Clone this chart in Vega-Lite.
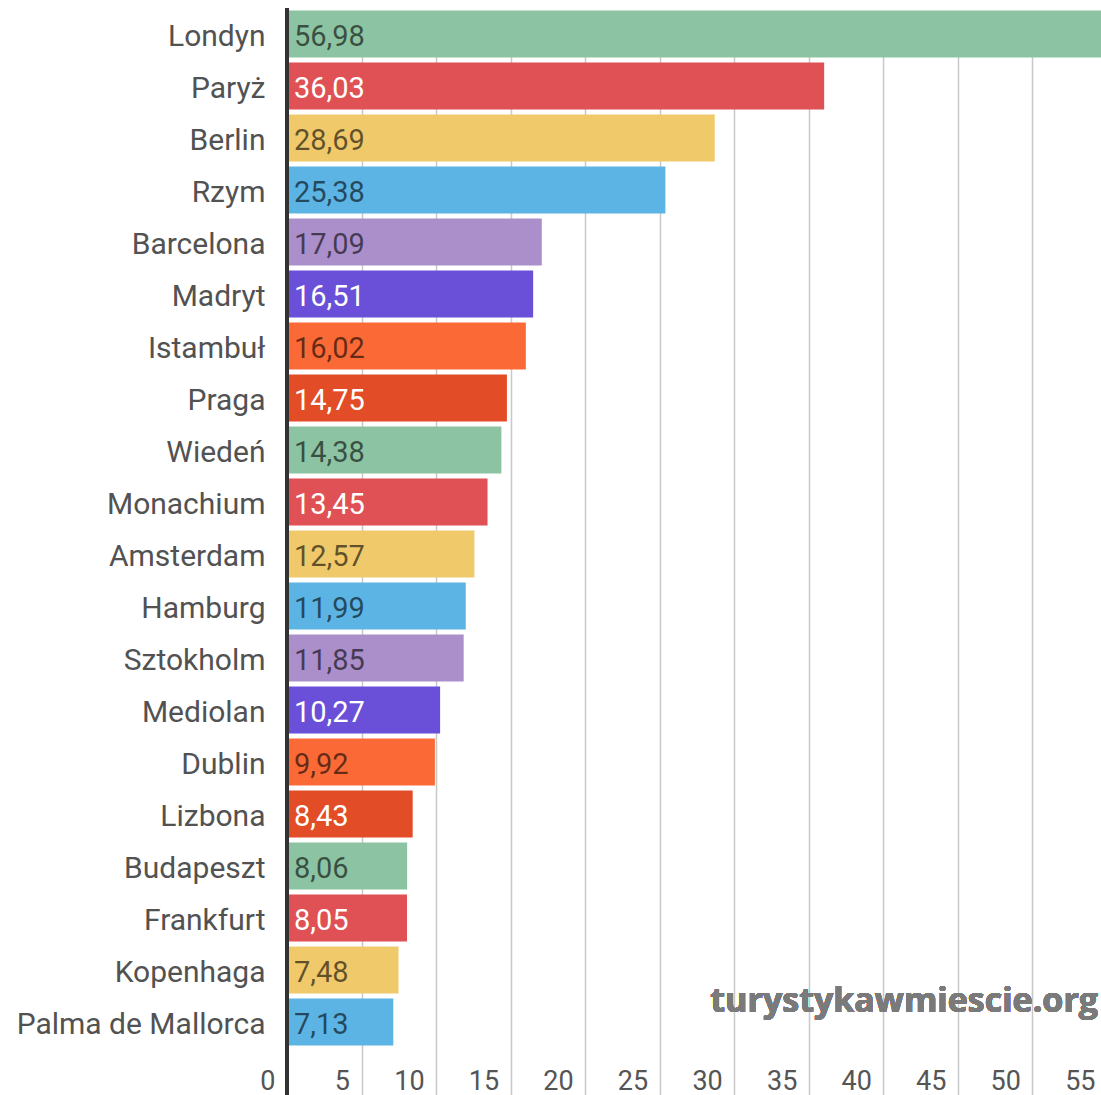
{
  "$schema": "https://vega.github.io/schema/vega-lite/v6.json",
  "width": 814,
  "height": 1087,
  "autosize": {"type": "none"},
  "padding": {"left": 287, "top": 8, "right": 0, "bottom": 0},
  "background": "#ffffff",
  "config": {
    "view": {"stroke": null},
    "font": "Roboto",
    "locale": {"number": {"decimal": ",", "thousands": " ", "grouping": [3], "currency": ["", ""]}}
  },
  "data": {
    "values": [
      {"city": "Londyn", "v": 56.98},
      {"city": "Paryż", "v": 36.03},
      {"city": "Berlin", "v": 28.69},
      {"city": "Rzym", "v": 25.38},
      {"city": "Barcelona", "v": 17.09},
      {"city": "Madryt", "v": 16.51},
      {"city": "Istambuł", "v": 16.02},
      {"city": "Praga", "v": 14.75},
      {"city": "Wiedeń", "v": 14.38},
      {"city": "Monachium", "v": 13.45},
      {"city": "Amsterdam", "v": 12.57},
      {"city": "Hamburg", "v": 11.99},
      {"city": "Sztokholm", "v": 11.85},
      {"city": "Mediolan", "v": 10.27},
      {"city": "Dublin", "v": 9.92},
      {"city": "Lizbona", "v": 8.43},
      {"city": "Budapeszt", "v": 8.06},
      {"city": "Frankfurt", "v": 8.05},
      {"city": "Kopenhaga", "v": 7.48},
      {"city": "Palma de Mallorca", "v": 7.13}
    ]
  },
  "resolve": {"scale": {"color": "independent"}},
  "layer": [
    {
      "mark": {"type": "bar", "clip": true},
      "encoding": {
        "y": {
          "field": "city", "type": "nominal", "sort": null,
          "scale": {"range": [0, 1040], "paddingInner": 0.1, "paddingOuter": 0.05},
          "axis": {
            "title": null, "domain": false, "ticks": false, "tickSize": 0,
            "labelPadding": 22, "labelFontSize": 30, "labelColor": "#525252",
            "labelFont": "Roboto", "labelLimit": 0, "labelOffset": 3
          }
        },
        "x": {
          "field": "v", "type": "quantitative",
          "scale": {"domain": [0, 55], "range": [0, 820], "nice": false, "zero": true},
          "axis": {
            "title": null, "domain": false, "ticks": false, "tickSize": 0,
            "values": [0, 5, 10, 15, 20, 25, 30, 35, 40, 45, 50, 55],
            "grid": true, "gridColor": "#c8c8c8", "gridWidth": 1.5,
            "labelFontSize": 27, "labelColor": "#555555", "labelFont": "Roboto",
            "labelAlign": "right", "labelBaseline": "alphabetic",
            "labelOffset": -12, "labelPadding": -6,
            "labelFlush": false, "labelOverlap": false, "labelBound": false
          }
        },
        "color": {
          "field": "city", "type": "nominal", "legend": null,
          "scale": {
            "domain": ["Londyn","Paryż","Berlin","Rzym","Barcelona","Madryt","Istambuł","Praga","Wiedeń","Monachium","Amsterdam","Hamburg","Sztokholm","Mediolan","Dublin","Lizbona","Budapeszt","Frankfurt","Kopenhaga","Palma de Mallorca"],
            "range": ["#8cc3a2","#df5155","#f0c96a","#5cb4e4","#aa8fcb","#6a4fd9","#fb6a36","#e24d27","#8cc3a2","#df5155","#f0c96a","#5cb4e4","#aa8fcb","#6a4fd9","#fb6a36","#e24d27","#8cc3a2","#df5155","#f0c96a","#5cb4e4"]
          }
        }
      }
    },
    {
      "mark": {"type": "text", "align": "left", "baseline": "middle", "dx": 7, "dy": 3, "fontSize": 29, "font": "Roboto"},
      "encoding": {
        "y": {"field": "city", "type": "nominal", "sort": null},
        "x": {"datum": 0},
        "text": {"field": "v", "type": "quantitative", "format": ".2f"},
        "color": {
          "field": "city", "type": "nominal", "legend": null,
          "scale": {
            "domain": ["Londyn","Paryż","Berlin","Rzym","Barcelona","Madryt","Istambuł","Praga","Wiedeń","Monachium","Amsterdam","Hamburg","Sztokholm","Mediolan","Dublin","Lizbona","Budapeszt","Frankfurt","Kopenhaga","Palma de Mallorca"],
            "range": ["rgba(0,0,0,0.6)","#ffffff","rgba(0,0,0,0.6)","rgba(0,0,0,0.6)","rgba(0,0,0,0.6)","#ffffff","rgba(0,0,0,0.6)","#ffffff","rgba(0,0,0,0.6)","#ffffff","rgba(0,0,0,0.6)","rgba(0,0,0,0.6)","rgba(0,0,0,0.6)","#ffffff","rgba(0,0,0,0.6)","#ffffff","rgba(0,0,0,0.6)","#ffffff","rgba(0,0,0,0.6)","rgba(0,0,0,0.6)"]
          }
        }
      }
    },
    {
      "mark": {"type": "rule", "color": "#333333", "strokeWidth": 3},
      "encoding": {"x": {"datum": 0}}
    },
    {
      "mark": {"type": "text", "align": "right", "baseline": "middle", "dy": -20, "font": "Open Sans", "fontWeight": "bold", "fontSize": 34, "color": "#7a7a7a", "opacity": 0.85},
      "encoding": {
        "x": {"datum": 54.4},
        "y": {"datum": "Palma de Mallorca"},
        "text": {"value": "turystykawmiescie.org"}
      }
    }
  ]
}
